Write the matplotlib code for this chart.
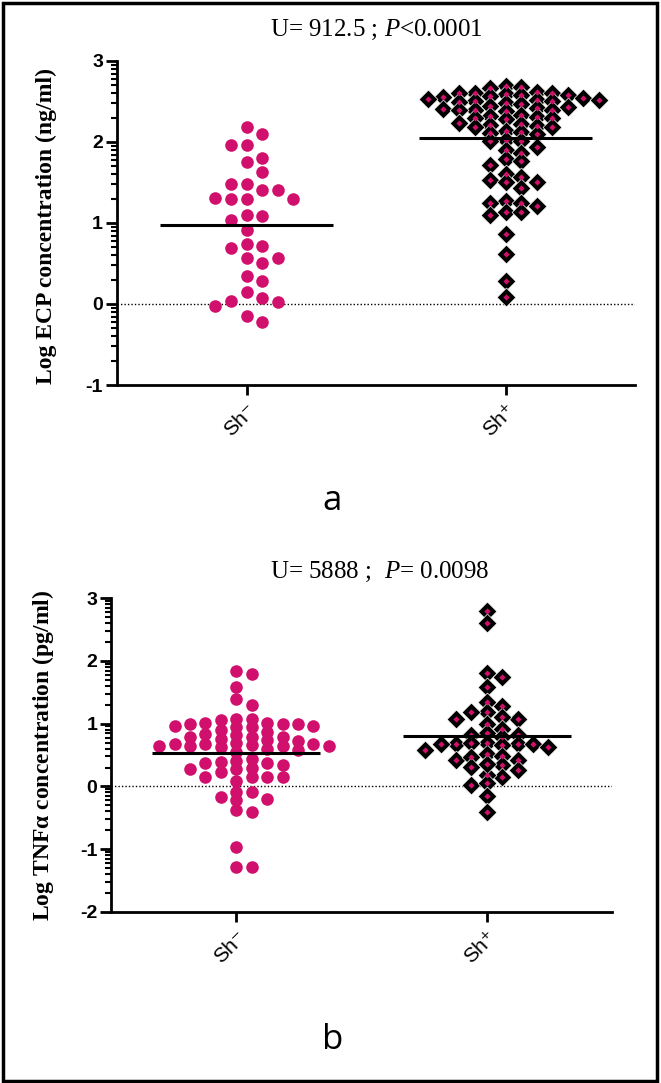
import matplotlib
matplotlib.use('Agg')
import matplotlib.pyplot as plt
from matplotlib.patches import Rectangle
from matplotlib.ticker import FixedLocator
import numpy as np

plt.rcParams['mathtext.fontset'] = 'custom'
plt.rcParams['mathtext.rm'] = 'Liberation Serif'
plt.rcParams['mathtext.it'] = 'Liberation Serif:italic'
plt.rcParams['mathtext.bf'] = 'Liberation Serif:bold'

# ── Data (log values) ────────────────────────────────────────────────────────
GROUPS = ['Sh⁻', 'Sh⁺']

ECP_NEG = [2.19, 2.10, 1.96, 1.96, 1.80, 1.75, 1.63, 1.48, 1.48, 1.41, 1.41,
           1.31, 1.29, 1.29, 1.30, 1.10, 1.09, 1.04, 0.91, 0.69, 0.71, 0.74,
           0.57, 0.57, 0.51, 0.28, 0.34, 0.15, 0.08, 0.02, -0.02, 0.04,
           -0.15, -0.22]
ECP_POS = [2.69, 2.68, 2.67,
           2.62, 2.61, 2.60, 2.60, 2.59, 2.58, 2.58, 2.57,
           2.55, 2.54, 2.53, 2.52, 2.52, 2.51, 2.50, 2.49, 2.48, 2.47,
           2.44, 2.43, 2.42, 2.41, 2.40, 2.40, 2.39, 2.38,
           2.33, 2.32, 2.31, 2.30, 2.29, 2.28,
           2.24, 2.22, 2.21, 2.20, 2.19, 2.18,
           2.14, 2.12, 2.11, 2.10,
           2.02, 2.01, 2.01, 1.94, 1.90, 1.87, 1.79, 1.77, 1.71, 1.61, 1.57,
           1.53, 1.50, 1.50, 1.43, 1.27, 1.25, 1.25, 1.21, 1.14, 1.13, 1.10,
           0.86, 0.62, 0.28, 0.09]
ECP_MEDIANS = [0.97, 2.05]
ECP_TITLE = r'U= 912.5 ; $P$<0.0001'

TNF_NEG = [1.79, 1.83, 1.59, 1.40, 1.29,
           1.01, 0.99, 0.97, 0.95, 1.08, 1.06, 1.08, 0.95, 0.97, 0.99, 0.99, 1.01,
           0.90, 0.84, 0.87, 0.82,
           0.79, 0.79, 0.72, 0.69, 0.68, 0.64, 0.67, 0.68, 0.74, 0.76, 0.79,
           0.60, 0.65, 0.65, 0.55, 0.58, 0.66, 0.63, 0.65,
           0.39, 0.34, 0.27, 0.40, 0.38, 0.43, 0.27, 0.30, 0.38,
           0.23, 0.15, 0.15, 0.15, 0.15, 0.08,
           -0.09, -0.22, -0.17, -0.09, -0.20, -0.41, -0.38, -0.97, -1.28, -1.28]
TNF_POS = [2.79, 2.61, 1.81, 1.74, 1.58, 1.28, 1.35, 1.19, 1.19, 1.08, 1.11,
           1.08, 0.99, 0.92, 0.85, 0.82, 0.79, 0.82, 0.69,
           0.68, 0.68, 0.67, 0.66, 0.67, 0.69, 0.63,
           0.52, 0.42, 0.42, 0.48, 0.58, 0.47,
           0.34, 0.26, 0.15, 0.18, 0.31, 0.35,
           0.03, 0.05, -0.16, -0.40]
TNF_MEDIANS = [0.53, 0.81]
TNF_TITLE = r'U= 5888 ;  $P$= 0.0098'

PINK = '#D0106C'


def swarm_cols(values, gap):
    """Prism-like scatter: greedy column assignment, centre first."""
    vals = np.asarray(values, dtype=float)
    cols = np.zeros(len(vals), dtype=int)
    placed = {}
    tries = [0]
    for k in range(1, 40):
        tries += [k, -k]
    for i in np.argsort(-vals, kind='stable'):
        y = vals[i]
        for c in tries:
            if all(abs(y - py) >= gap for py in placed.get(c, [])):
                break
        placed.setdefault(c, []).append(y)
        cols[i] = c
    return cols


def style_axis(ax, ylo, yhi, ylabel):
    ax.set_xlim(0.5, 2.5)
    ax.set_ylim(ylo, yhi)
    for side in ('top', 'right'):
        ax.spines[side].set_visible(False)
    for side in ('left', 'bottom'):
        ax.spines[side].set_linewidth(2)
    ticks = list(range(ylo, yhi + 1))
    ax.set_yticks(ticks)
    ax.set_yticklabels([str(t) for t in ticks], fontsize=14, fontweight='bold',
                       family='Liberation Sans')
    minors = [n + np.log10(k) for n in range(ylo, yhi) for k in range(2, 10)]
    ax.yaxis.set_minor_locator(FixedLocator(minors))
    ax.tick_params(axis='y', which='major', length=8, width=2, pad=2)
    ax.tick_params(axis='y', which='minor', length=4.5, width=1.5)
    ax.tick_params(axis='x', which='major', length=7, width=2, pad=4)
    ax.set_xticks([1, 2])
    ax.set_xticklabels(GROUPS, rotation=45, ha='right', va='top',
                       rotation_mode='anchor', fontsize=15,
                       family=['Liberation Sans', 'DejaVu Sans'])
    ax.axhline(0, color='black', lw=1, ls=(0, (1, 1.5)), zorder=1)
    ax.set_ylabel(ylabel, fontsize=17, fontweight='bold',
                  family='Liberation Serif')


def draw_panel(ax, neg, pos, medians, gaps, step):
    cols_n = swarm_cols(neg, gaps[0])
    ax.scatter(1 + cols_n * step, neg, s=82, c=PINK, marker='o',
               linewidths=0, zorder=3)
    cols_p = swarm_cols(pos, gaps[1])
    xp = 2 + cols_p * step
    ax.scatter(xp, pos, s=92, marker='D', facecolor='black',
               edgecolor='white', linewidths=0.5, zorder=3)
    ax.scatter(xp, pos, s=10, marker='D', c=PINK, linewidths=0, zorder=3)
    ax.hlines(medians, [0.665, 1.665], [1.335, 2.335], color='black',
              lw=2.2, zorder=4)


fig = plt.figure(figsize=(6.61, 10.83), dpi=100)

ax_a = fig.add_axes([0.177, 0.6445, 0.784, 0.2992])
style_axis(ax_a, -1, 3, 'Log ECP concentration (ng/ml)')
ax_a.yaxis.set_label_coords(-0.115, 0.49)
draw_panel(ax_a, ECP_NEG, ECP_POS, ECP_MEDIANS, (0.17, 0.10), 0.06)
fig.text(0.57, 0.972, ECP_TITLE, ha='center', va='center', fontsize=18,
         family='Liberation Serif')
fig.text(0.503, 0.537, 'a', ha='center', va='center', fontsize=25,
         family='Open Sans')

ax_b = fig.add_axes([0.168, 0.1579, 0.758, 0.2899])
style_axis(ax_b, -2, 3, r'Log TNF$\mathbf{\alpha}$ concentration (pg/ml)')
ax_b.yaxis.set_label_coords(-0.11, 0.5)
draw_panel(ax_b, TNF_NEG, TNF_POS, TNF_MEDIANS, (0.125, 0.13), 0.0615)
fig.text(0.575, 0.472, TNF_TITLE, ha='center', va='center', fontsize=18,
         family='Liberation Serif')
fig.text(0.503, 0.04, 'b', ha='center', va='center', fontsize=25,
         family='Open Sans')

fig.patches.append(Rectangle((0.004, 0.002), 0.99, 0.995, transform=fig.transFigure,
                             fill=False, edgecolor='black', lw=2.5))

fig.savefig('out.png', dpi=100)
